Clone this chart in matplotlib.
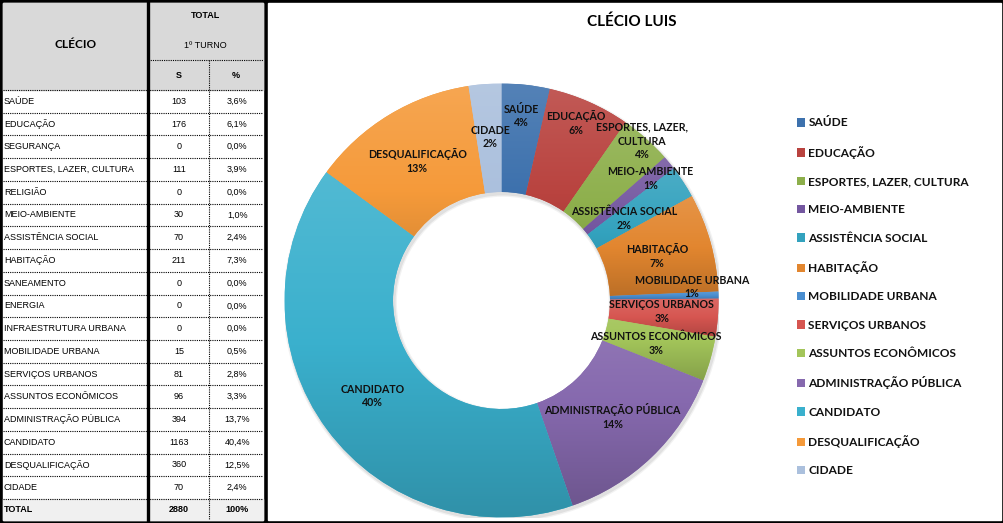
import numpy as np
import matplotlib
matplotlib.use("Agg")
import matplotlib.pyplot as plt
from matplotlib.patches import Rectangle, Wedge
from matplotlib.colors import LinearSegmentedColormap, to_rgb

# ---------------- data ----------------
table_categories = ["SAÚDE", "EDUCAÇÃO", "SEGURANÇA", "ESPORTES, LAZER, CULTURA", "RELIGIÃO",
                    "MEIO-AMBIENTE", "ASSISTÊNCIA SOCIAL", "HABITAÇÃO", "SANEAMENTO", "ENERGIA",
                    "INFRAESTRUTURA URBANA", "MOBILIDADE URBANA", "SERVIÇOS URBANOS",
                    "ASSUNTOS ECONÔMICOS", "ADMINISTRAÇÃO PÚBLICA", "CANDIDATO",
                    "DESQUALIFICAÇÃO", "CIDADE"]
table_values = [103, 176, 0, 111, 0, 30, 70, 211, 0, 0, 0, 15, 81, 96, 394, 1163, 360, 70]
total_value = 2880

chart_title = "CLÉCIO LUIS"
table_title = "CLÉCIO"
header_total = "TOTAL"
header_turn = "1º TURNO"
header_cols = ["S", "%"]

# chart shows only the non-zero categories
chart_categories = [c for c, v in zip(table_categories, table_values) if v > 0]
chart_values = [v for v in table_values if v > 0]
chart_label_text = {"ESPORTES, LAZER, CULTURA": "ESPORTES, LAZER,\nCULTURA"}

# ---------------- style ----------------
colors = ["#3D71AD", "#B9433F", "#8DAF4B", "#7457A0", "#33A2BE", "#E2862F",
          "#4A8ED0", "#D65550", "#A3C55A", "#8669AE", "#3AB0CD", "#F59A3A", "#ABC0DD"]
label_radius = [0.855, 0.887, 0.98, 0.887, 0.68, 0.745, 0.88, 0.74, 0.74, 0.74, 0.74, 0.75, 0.755]
label_angle_shift = [-0.4, -1.1, -0.4, 0, -0.5, -0.4, -2.6, -0.6, 0, 0, 0, 0, 0.4]  # degrees, clockwise

W, H = 1004, 523
fig = plt.figure(figsize=(W / 100, H / 100), dpi=100, facecolor="black")

# ---------------- background / table ----------------
bg = fig.add_axes([0, 0, 1, 1])
bg.set_xlim(0, W)
bg.set_ylim(H, 0)
bg.axis("off")
bg.add_patch(Rectangle((0, 0), W, H, color="black", zorder=0))
bg.add_patch(Rectangle((268, 3), 1001 - 268, 520 - 3, color="white", zorder=1))

tx0, tx1 = 3, 263
col1, col2 = 148.5, 209.5
hdr_top, hdr_bot = 3, 90
row_h = (499 - 90) / len(table_categories)
tot_top = hdr_bot + row_h * len(table_categories)
tbl_bot = 520

bg.add_patch(Rectangle((tx0, 3), tx1 - tx0, tbl_bot - 3, color="white", zorder=1))
bg.add_patch(Rectangle((tx0, hdr_top), tx1 - tx0, hdr_bot - hdr_top, color="#D9D9D9", zorder=1))
bg.add_patch(Rectangle((tx0, tot_top), tx1 - tx0, tbl_bot - tot_top, color="#F0F0F0", zorder=1))

dot = dict(color="black", lw=0.8, ls=(0, (1, 1)), zorder=3)
bg.plot([col1, tx1], [60, 60], **dot)
bg.plot([col2, col2], [60, tbl_bot], **dot)
for i in range(len(table_categories) + 1):
    y = hdr_bot + i * row_h
    bg.plot([tx0, tx1], [y, y], **dot)
bg.plot([col1, col1], [3, tbl_bot], color="black", lw=2.4, zorder=4)

tfont = dict(family="Liberation Sans", fontsize=6.5, color="black", zorder=5)
bg.text((tx0 + col1) / 2, 45, table_title, ha="center", va="center",
        family="Lato", fontsize=8.5, fontweight="bold", zorder=5)
bg.text((col1 + tx1) / 2, 15, header_total, ha="center", va="center", fontweight="bold",
        **tfont)
bg.text((col1 + tx1) / 2, 45, header_turn, ha="center", va="center", **tfont)
bg.text((col1 + col2) / 2, 75, header_cols[0], ha="center", va="center", fontweight="bold", **tfont)
bg.text((col2 + tx1) / 2, 75, header_cols[1], ha="center", va="center", fontweight="bold", **tfont)

for i, (c, v) in enumerate(zip(table_categories, table_values)):
    yc = hdr_bot + (i + 0.5) * row_h
    pct = f"{v / total_value * 100:.1f}".replace(".", ",") + "%"
    bg.text(tx0 + 1, yc, c, ha="left", va="center", **tfont)
    bg.text((col1 + col2) / 2, yc, str(v), ha="center", va="center", **tfont)
    bg.text((col2 + tx1) / 2 + 1, yc, pct, ha="center", va="center", **tfont)
yc = (tot_top + tbl_bot) / 2
bg.text(tx0 + 1, yc, "TOTAL", ha="left", va="center", fontweight="bold", **tfont)
bg.text((col1 + col2) / 2, yc, str(sum(table_values)), ha="center", va="center",
        fontweight="bold", **tfont)
bg.text((col2 + tx1) / 2 + 1, yc, "100%", ha="center", va="center", fontweight="bold", **tfont)

# ---------------- donut ----------------
cx, cy, R = 501.5, 300.5, 217
ax = fig.add_axes([(cx - R) / W, (H - cy - R) / H, 2 * R / W, 2 * R / H])
ax.set_facecolor("none")

# soft shadow
for k, a in [(1.012, 0.05), (1.006, 0.07)]:
    ax.add_patch(Wedge((0.006, -0.010), k, 0, 360, width=0.5 + (k - 1) * 2,
                       color="black", alpha=a, lw=0, zorder=0))

wedges, _ = ax.pie(chart_values, colors=colors, startangle=90, counterclock=False,
                   radius=1, wedgeprops=dict(width=0.5, linewidth=0))

for w, col in zip(wedges, colors):
    base = np.array(to_rgb(col))
    light = base + (1 - base) * 0.12
    dark = base * 0.82
    cmap = LinearSegmentedColormap.from_list("g", [dark, base, light])
    verts = w.get_path().vertices
    x0, x1 = verts[:, 0].min(), verts[:, 0].max()
    y0, y1 = verts[:, 1].min(), verts[:, 1].max()
    grad = np.linspace(0, 1, 128).reshape(-1, 1)
    im = ax.imshow(grad, cmap=cmap, extent=[x0, x1, y0, y1], origin="lower",
                   aspect="auto", zorder=w.get_zorder() + 0.1, interpolation="bilinear")
    im.set_clip_path(w)

for w, cat, v, r, da in zip(wedges, chart_categories, chart_values, label_radius,
                            label_angle_shift):
    mid = np.deg2rad((w.theta1 + w.theta2) / 2 - da)
    pct = int(np.floor(v / total_value * 100 + 0.5))
    txt = chart_label_text.get(cat, cat) + f"\n{pct}%"
    ax.text(r * np.cos(mid), r * np.sin(mid), txt, ha="center", va="center",
            family="Lato", fontsize=7.7, fontweight="bold", color="#111111",
            linespacing=1.3, zorder=10)

ax.set_xlim(-1, 1)
ax.set_ylim(-1, 1)
ax.axis("off")

# ---------------- title & legend ----------------
fig.text(632 / W, 1 - 22 / H, chart_title, ha="center", va="center",
         family="Lato", fontsize=11, fontweight="bold")

leg = fig.legend(handles=wedges, labels=chart_categories, loc="upper left",
                 bbox_to_anchor=(797 / W, 1 - 117.5 / H), frameon=False,
                 prop=dict(family="Lato", weight="bold", size=8.6),
                 handlelength=0.7, handleheight=0.7, handletextpad=0.25,
                 labelspacing=1.45, borderpad=0, borderaxespad=0)
for t in leg.get_texts():
    t.set_color("#111111")

fig.savefig("out.png", dpi=100, facecolor="black")
